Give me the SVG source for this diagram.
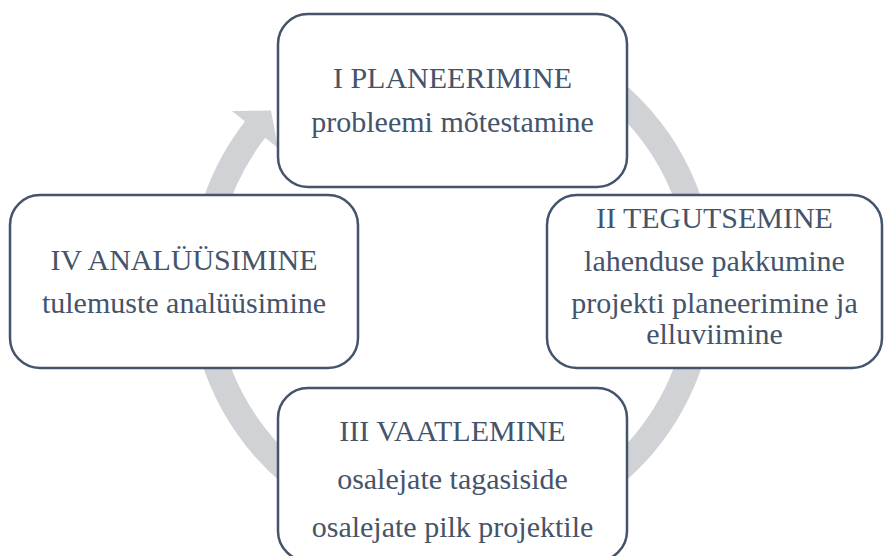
<svg xmlns="http://www.w3.org/2000/svg" width="884" height="556" viewBox="0 0 884 556">
<style>
.box{fill:#fff;stroke:#44546a;stroke-width:2.5}
.t{font-family:'Liberation Serif','Times New Roman',serif;font-size:30px;fill:#44546a;text-anchor:middle}
.ring{fill:none;stroke:#d0d2d6;stroke-width:26}
</style>
<rect width="884" height="556" fill="#fff"/>
<g id="connectors">
<path class="ring" d="M538,48.1 A250,250 0 1 1 255.5,129.1"/>
<polygon points="232,111 271,110.5 278,148" fill="#d0d2d6"/>
</g>
<g id="node-I">
<rect class="box" x="278" y="14" width="349" height="173" rx="30"/>
<text class="t" x="452.5" y="88">I PLANEERIMINE</text>
<text class="t" x="452.5" y="132">probleemi mõtestamine</text>
</g>
<g id="node-II">
<rect class="box" x="547" y="195" width="335" height="173" rx="30"/>
<text class="t" x="714.5" y="228">II TEGUTSEMINE</text>
<text class="t" x="714.5" y="271">lahenduse pakkumine</text>
<text class="t" x="714.5" y="313">projekti planeerimine ja</text>
<text class="t" x="714.5" y="344">elluviimine</text>
</g>
<g id="node-III">
<rect class="box" x="278" y="388" width="349" height="173" rx="30"/>
<text class="t" x="452.5" y="441">III VAATLEMINE</text>
<text class="t" x="452.5" y="489">osalejate tagasiside</text>
<text class="t" x="452.5" y="537">osalejate pilk projektile</text>
</g>
<g id="node-IV">
<rect class="box" x="10" y="195" width="348" height="173" rx="30"/>
<text class="t" x="184" y="270">IV ANALÜÜSIMINE</text>
<text class="t" x="184" y="313">tulemuste analüüsimine</text>
</g>
</svg>
